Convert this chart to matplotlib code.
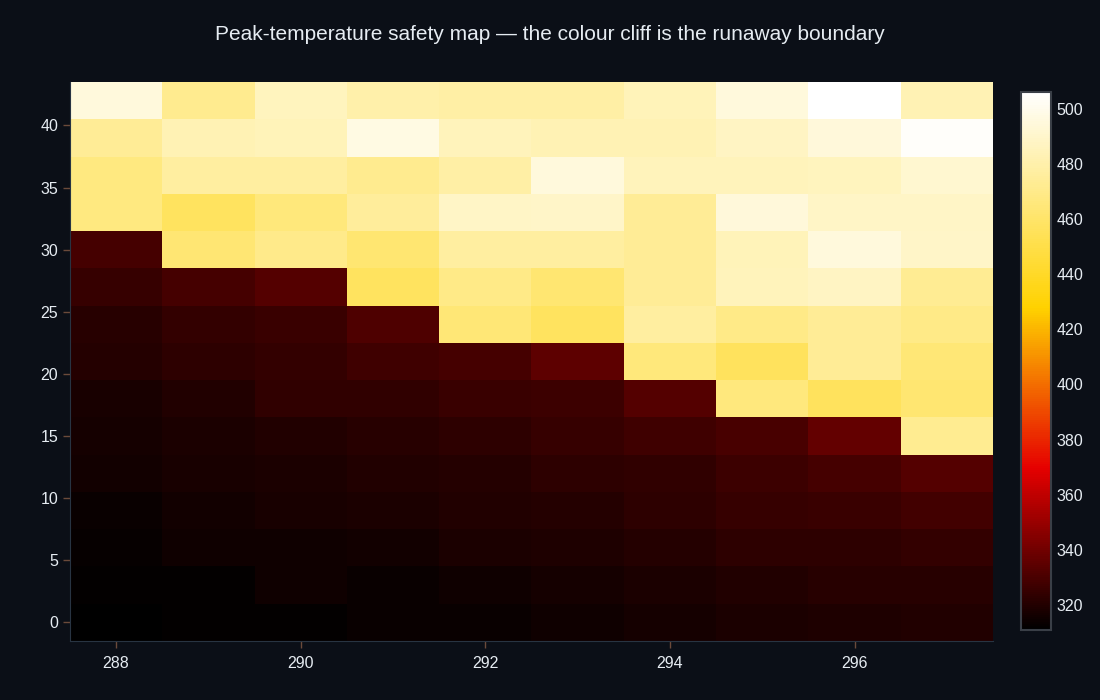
import matplotlib
matplotlib.use("Agg")
import matplotlib.pyplot as plt
import numpy as np
from matplotlib.colors import LinearSegmentedColormap

# feed temperature (x) and coolant flow (y) grid
x_vals = [288, 289, 290, 291, 292, 293, 294, 295, 296, 297]
y_vals = [0, 3, 6, 9, 12, 15, 18, 21, 24, 27, 30, 33, 36, 39, 42]

# peak temperature, one row per y value (bottom to top)
row_0 = [311.0, 312.0, 312.5, 313.5, 314.0, 315.5, 316.5, 318.0, 319.0, 320.0]
row_3 = [312.3, 312.3, 315.0, 314.0, 315.5, 316.5, 318.0, 320.0, 321.0, 321.5]
row_6 = [313.0, 315.0, 315.5, 316.0, 318.0, 319.0, 320.5, 322.5, 323.0, 324.0]
row_9 = [314.0, 316.0, 317.5, 318.5, 320.0, 320.5, 322.5, 325.0, 325.5, 328.0]
row_12 = [316.0, 317.5, 318.5, 320.0, 320.5, 322.5, 323.5, 326.5, 329.0, 332.5]
row_15 = [316.5, 318.0, 320.0, 321.0, 322.5, 325.0, 327.5, 329.5, 336.5, 472.0]
row_18 = [317.5, 320.0, 323.5, 323.5, 326.0, 326.5, 332.5, 466.0, 456.0, 462.0]
row_21 = [320.5, 322.5, 324.0, 327.0, 329.0, 335.0, 465.0, 456.0, 474.0, 464.0]
row_24 = [321.0, 324.0, 326.0, 331.0, 464.0, 457.0, 477.0, 469.0, 474.0, 469.0]
row_27 = [325.0, 329.0, 333.0, 457.0, 469.0, 462.0, 474.0, 485.0, 487.0, 473.0]
row_30 = [329.0, 463.0, 470.0, 462.0, 477.0, 477.0, 474.0, 484.0, 495.0, 489.0]
row_33 = [467.0, 457.0, 465.0, 475.0, 488.0, 489.0, 474.0, 494.0, 488.0, 488.0]
row_36 = [467.0, 477.0, 477.0, 471.0, 478.0, 495.0, 485.0, 485.0, 486.0, 491.0]
row_39 = [474.0, 483.0, 484.0, 497.0, 485.0, 483.0, 483.0, 487.0, 494.0, 504.0]
row_42 = [495.0, 471.0, 486.0, 480.0, 478.0, 478.0, 484.0, 495.0, 506.0, 483.0]

z = np.array([row_0, row_3, row_6, row_9, row_12, row_15, row_18, row_21,
              row_24, row_27, row_30, row_33, row_36, row_39, row_42])

bg = "#0b0f17"
fg = "#e6ecf2"

hot = LinearSegmentedColormap.from_list(
    "plotly_hot",
    [(0.0, (0, 0, 0)), (0.3, (230/255, 0, 0)),
     (0.6, (1, 210/255, 0)), (1.0, (1, 1, 1))])

plt.rcParams['font.family'] = ['Liberation Sans', 'DejaVu Sans']

fig = plt.figure(figsize=(11, 7), dpi=100, facecolor=bg)
ax = fig.add_axes([0.0636, 0.0843, 0.8391, 0.7986])
ax.set_facecolor(bg)

x_edges = np.arange(len(x_vals) + 1) - 0.5 + x_vals[0]
y_edges = np.arange(len(y_vals) + 1) * 3 - 1.5 + y_vals[0]
mesh = ax.pcolormesh(x_edges, y_edges, z, cmap=hot,
                     vmin=z.min(), vmax=z.max(), shading="flat")

ax.set_xlim(x_edges[0], x_edges[-1])
ax.set_ylim(y_edges[0], y_edges[-1])
ax.set_xticks([288, 290, 292, 294, 296])
ax.set_yticks([0, 5, 10, 15, 20, 25, 30, 35, 40])
ax.tick_params(colors="#6b4a3a", labelcolor=fg, labelsize=11.5, length=5, width=1)
ax.tick_params(axis="x", pad=6)
for side in ["top", "right"]:
    ax.spines[side].set_visible(False)
for side in ["left", "bottom"]:
    ax.spines[side].set_color("#283442")

cax = fig.add_axes([0.9282, 0.1, 0.0273, 0.7686])
cb = fig.colorbar(mesh, cax=cax, ticks=np.arange(320, 501, 20))
cb.outline.set_edgecolor("#3a3f47")
cb.outline.set_linewidth(1.5)
cax.tick_params(colors=bg, labelcolor=fg, labelsize=11.5, length=0, pad=4)

fig.text(0.5, 0.95, "Peak-temperature safety map \u2014 the colour cliff is the runaway boundary",
         ha="center", va="center", color=fg, fontsize=15)

fig.savefig("out.png", dpi=100, facecolor=bg)
